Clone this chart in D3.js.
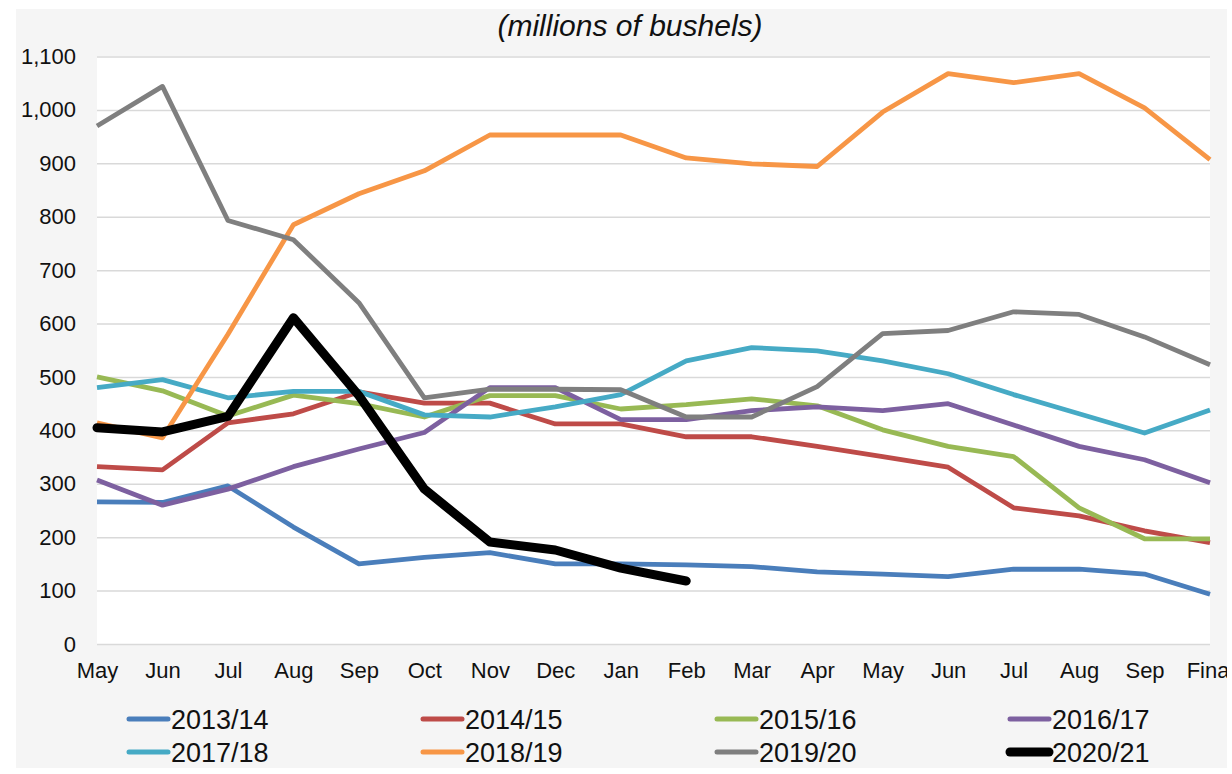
<!DOCTYPE html>
<html>
<head>
<meta charset="utf-8">
<script src="https://cdn.jsdelivr.net/npm/d3@7"></script>
<style>
  html, body { margin: 0; padding: 0; background: #ffffff; }
  svg { display: block; font-family: "Liberation Sans", Arial, sans-serif; }
</style>
</head>
<body>
<svg id="chart" width="1232" height="774"></svg>
<script>
// ---- data ----
const months = ["May","Jun","Jul","Aug","Sep","Oct","Nov","Dec","Jan","Feb","Mar","Apr","May ","Jun ","Jul ","Aug ","Sep ","Final"];
const monthLabels = ["May","Jun","Jul","Aug","Sep","Oct","Nov","Dec","Jan","Feb","Mar","Apr","May","Jun","Jul","Aug","Sep","Final"];
const yTicks = [0,100,200,300,400,500,600,700,800,900,1000,1100];
const seriesNames = ["2013/14","2014/15","2015/16","2016/17","2017/18","2018/19","2019/20","2020/21"];

const s2013 = [266,265,296,219,150,162,171,150,150,148,145,135,131,126,140,140,131,93];
const s2014 = [332,326,414,431,472,451,451,412,412,388,388,370,351,331,255,240,212,190];
const s2015 = [500,474,427,466,450,425,465,465,440,448,459,446,401,370,351,255,197,197];
const s2016 = [307,260,290,332,365,396,480,480,420,420,437,444,437,450,410,370,345,302];
const s2017 = [480,495,461,473,473,429,425,444,467,530,555,549,530,506,467,431,395,438];
const s2018 = [414,386,580,785,843,886,953,953,953,910,899,894,996,1068,1051,1068,1004,907];
const s2019 = [970,1044,793,757,639,461,477,477,476,425,425,482,581,587,622,617,575,523];
const s2020 = [405,397,426,611,465,290,191,176,142,118];

const seriesValues = [s2013,s2014,s2015,s2016,s2017,s2018,s2019,s2020];
const seriesColors = ["#4a7ebb","#be4b48","#98b954","#7d60a0","#46aac5","#f79646","#7f7f7f","#000000"];
const seriesWidths = [4.8,4.8,4.8,4.8,4.8,4.8,4.8,9];

// ---- layout ----
const svg = d3.select("#chart");
const plot = {left: 97, right: 1210, top: 56, bottom: 644};

svg.append("rect").attr("x",16).attr("y",9).attr("width",1211).attr("height",759).attr("fill","#f5f5f5");
svg.append("rect").attr("x",plot.left).attr("y",plot.top).attr("width",plot.right-plot.left).attr("height",plot.bottom-plot.top).attr("fill","#ffffff");

const x = d3.scalePoint().domain(months).range([plot.left, plot.right]).padding(0);
const y = d3.scaleLinear().domain([0,1100]).range([plot.bottom, plot.top+0.5]);

// title
svg.append("text")
  .attr("x", 630).attr("y", 36)
  .attr("text-anchor","middle")
  .attr("font-style","italic")
  .attr("font-size", 30)
  .attr("fill","#111")
  .text("(millions of bushels)");

// gridlines + y axis
const yAxis = d3.axisLeft(y).tickValues(yTicks).tickSize(-(plot.right-plot.left)).tickPadding(21)
  .tickFormat(d3.format(","));
const gy = svg.append("g").attr("transform",`translate(${plot.left},0)`).call(yAxis);
gy.select(".domain").remove();
gy.selectAll(".tick line").attr("stroke","#d9d9d9").attr("stroke-width",1.5);
gy.selectAll(".tick text").attr("font-size",22).attr("fill","#111").attr("font-family","Liberation Sans, Arial, sans-serif");

// x axis labels (the last one is cut by the chart frame, as in the source)
svg.append("defs").append("clipPath").attr("id","clipx")
  .append("rect").attr("x",0).attr("y",0).attr("width",1227).attr("height",774);
const xAxis = d3.axisBottom(x).tickSize(0).tickPadding(18).tickFormat((d,i)=>monthLabels[i]);
const gx = svg.append("g").attr("transform",`translate(0,${plot.bottom})`).attr("clip-path","url(#clipx)").call(xAxis);
gx.select(".domain").remove();
gx.selectAll(".tick text").attr("font-size",22).attr("fill","#111").attr("font-family","Liberation Sans, Arial, sans-serif");

// lines
const line = d3.line().x((d,i)=>x(months[i])).y(d=>y(d));
seriesValues.forEach((vals,k)=>{
  svg.append("path")
    .datum(vals)
    .attr("d", line)
    .attr("fill","none")
    .attr("stroke", seriesColors[k])
    .attr("stroke-width", seriesWidths[k])
    .attr("stroke-linejoin","round")
    .attr("stroke-linecap", k===7 ? "round" : "butt");
});

// legend
const legX = [127, 421, 715, 1008];
const legY = [719, 752];
seriesNames.forEach((name,k)=>{
  const col = k % 4, row = Math.floor(k/4);
  const g = svg.append("g").attr("transform",`translate(${legX[col]},${legY[row]})`);
  g.append("line").attr("x1",2).attr("x2",41).attr("y1",0).attr("y2",0)
    .attr("stroke",seriesColors[k]).attr("stroke-width", k===7 ? 9 : 5).attr("stroke-linecap","round");
  g.append("text").attr("x",44).attr("y",9.5).attr("font-size",27).attr("fill","#111").text(name);
});
</script>
</body>
</html>
